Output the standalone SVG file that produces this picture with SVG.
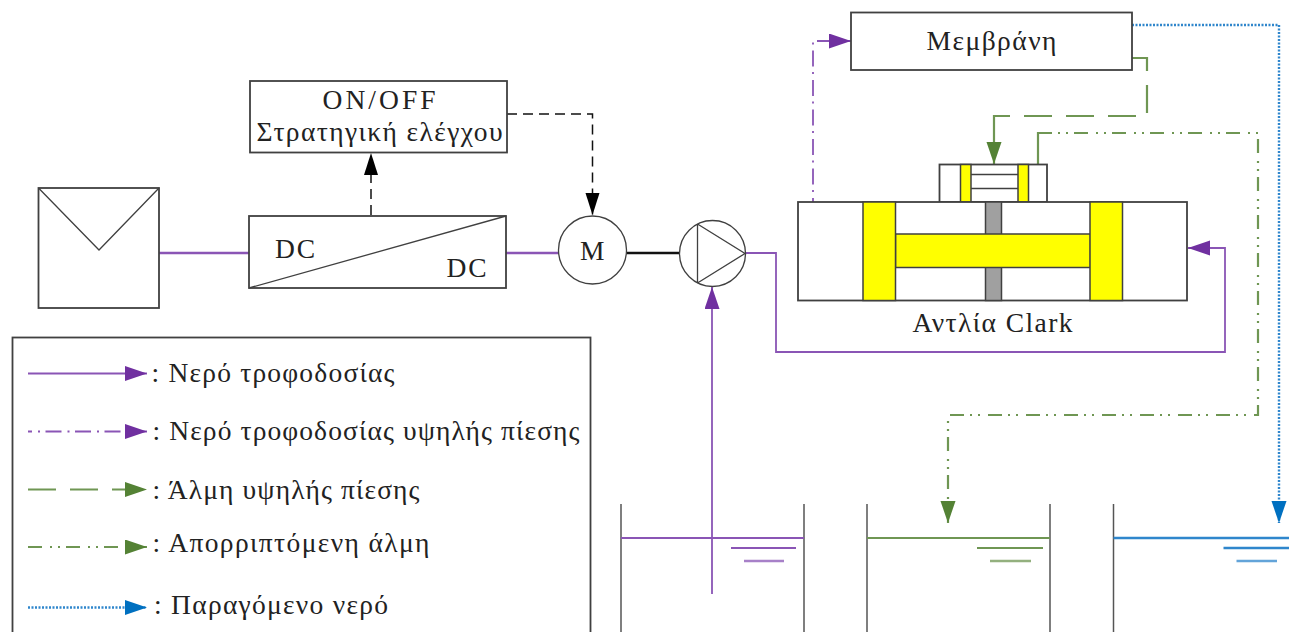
<svg xmlns="http://www.w3.org/2000/svg" width="1289" height="632" viewBox="0 0 1289 632">
<style>
text{font-family:"Liberation Serif","Noto Sans CJK SC",serif;font-size:27.500px;fill:#222}
.box{fill:#fff;stroke:#404040;stroke-width:1.8}
.thin{fill:none;stroke:#404040;stroke-width:1.3}
.y{fill:#ff0;stroke:#404040;stroke-width:1.5}
.g{fill:#a0a0a0;stroke:#404040;stroke-width:1.5}
.c{fill:none}
.pu{stroke:#8a55b5;stroke-width:1.8}
.gr{stroke:#6f9653;stroke-width:2.200}
.bl{stroke:#2f86cc;stroke-width:2.400}
.bk{stroke:#111;stroke-width:1.5}
.dd{stroke-dasharray:16 6 2 5.500;stroke-dashoffset:12}
.dl{stroke-dasharray:28 14}
.d3{stroke-dasharray:14 8 2 6 2 6}
.dt{stroke-dasharray:2 1.500}
.ds{stroke-dasharray:10 6}
.w{stroke-width:2.400}
.tank{fill:none;stroke:#555;stroke-width:1.5}
</style>
<defs>
<marker id="ap" markerUnits="userSpaceOnUse" markerWidth="23" markerHeight="16" refX="22" refY="7.5" orient="auto"><path d="M0 0L22 7.5L0 15z" fill="#7030a0"/></marker>
<marker id="ag" markerUnits="userSpaceOnUse" markerWidth="23" markerHeight="16" refX="22" refY="7.5" orient="auto"><path d="M0 0L22 7.5L0 15z" fill="#548235"/></marker>
<marker id="ab" markerUnits="userSpaceOnUse" markerWidth="23" markerHeight="16" refX="22" refY="7.5" orient="auto"><path d="M0 0L22 7.5L0 15z" fill="#0070c0"/></marker>
<marker id="ak" markerUnits="userSpaceOnUse" markerWidth="23" markerHeight="16" refX="22" refY="7" orient="auto"><path d="M0 0L22 7L0 14z" fill="#000"/></marker>
</defs>
<rect width="1289" height="632" fill="#fff"/>

<g id="connectors" class="c">
<path class="c pu w" d="M159 253H249"/>
<path class="c pu w" d="M506 253H558"/>
<path class="c bk" style="stroke-width:2.400" d="M627 253H680"/>
<path class="c pu" d="M745 253H776V352H1225V248H1188" marker-end="url(#ap)"/>
<path class="c pu" d="M712 594V287" marker-end="url(#ap)"/>
<path class="c pu dd" d="M813 202V41H851" marker-end="url(#ap)"/>
<path class="c gr dl" d="M1132 58H1147V116H1010"/>
<path class="c gr" d="M1010 116H994V164" marker-end="url(#ag)"/>
<path class="c gr" d="M1038 164V133H1052"/>
<path class="c gr d3" d="M1058 133H1258V415H948V523" stroke-dashoffset="22" marker-end="url(#ag)"/>
<path class="c bl dt" d="M1132 25H1279V523" marker-end="url(#ab)"/>
<path class="c bk ds" d="M371 215V153" marker-end="url(#ak)"/>
<path class="c bk ds" d="M507 114H592.500V215" marker-end="url(#ak)"/>
</g>

<g id="pv"><rect class="box" x="38.500" y="188" width="120.500" height="120"/><path class="thin" d="M38.500 188L99 250L159 188"/></g>
<g id="control"><rect class="box" x="250" y="81" width="257" height="71.500"/>
<text x="322.500" y="109" textLength="113">ON/OFF</text>
<text x="256.500" y="141" textLength="246">Στρατηγική ελέγχου</text></g>
<g id="dcdc"><rect class="box" x="249" y="216" width="257" height="72"/><path class="thin" d="M249 288L506 216"/>
<text x="275" y="258" textLength="40">DC</text>
<text x="446.500" y="277" textLength="40">DC</text></g>
<g id="motor"><circle class="thin" cx="592.500" cy="250" r="34"/><text x="580" y="259.500" textLength="26">M</text></g>
<g id="pump"><circle class="thin" cx="712.500" cy="253.500" r="33"/><path class="thin" d="M697.500 224V283M697.500 224L745 253.500L697.500 283"/></g>

<g id="membrane"><rect class="box" x="851" y="12.500" width="281" height="57.500"/>
<text x="926.500" y="50" textLength="130">Μεμβράνη</text></g>

<g id="clark">
<rect class="box" x="939.500" y="164.500" width="107.500" height="37.500"/>
<rect class="y" x="960.500" y="164.500" width="10.500" height="37.500"/>
<rect class="y" x="1018" y="164.500" width="10.500" height="37.500"/>
<path class="thin" d="M971 174.500H1018M971 188.500H1018"/>
<rect class="box" x="798" y="202" width="389" height="98.500"/>
<rect class="g" x="985.500" y="202" width="16" height="98.500"/>
<rect class="y" x="895.500" y="234" width="195" height="33.500"/>
<rect class="y" x="863" y="202" width="32.500" height="98.500"/>
<rect class="y" x="1090" y="202" width="32.500" height="98.500"/>
<text x="912.500" y="331.500" textLength="160">Αντλία Clark</text>
</g>

<g id="legend">
<rect class="box" x="12.500" y="337.500" width="578" height="310"/>
<path class="c pu" d="M28 373.500H147" marker-end="url(#ap)"/>
<path class="c pu dd" d="M28 431.500H147" stroke-dashoffset="0" marker-end="url(#ap)"/>
<path class="c gr dl" d="M28 489.500H147" marker-end="url(#ag)"/>
<path class="c gr d3" d="M28 547H147" marker-end="url(#ag)"/>
<path class="c bl dt" d="M28 607.500H147" marker-end="url(#ab)"/>
<text x="151.500" y="382" textLength="243">: Νερό τροφοδοσίας</text>
<text x="152.500" y="440" textLength="427">: Νερό τροφοδοσίας υψηλής πίεσης</text>
<text x="152.500" y="499" textLength="267">: Άλμη υψηλής πίεσης</text>
<text x="152.500" y="552" textLength="277">: Απορριπτόμενη άλμη</text>
<text x="154" y="614" textLength="234">: Παραγόμενο νερό</text>
</g>

<g id="tank-feed">
<path class="tank" d="M621 504V632M804 504V632"/>
<path class="c pu" d="M621 538H804M731 548H796"/><path class="c pu" style="stroke-width:2.500;opacity:.75" d="M744 561H784"/>
</g>
<g id="tank-brine">
<path class="tank" d="M867 504V632M1050 504V632"/>
<path class="c gr" d="M867 538H1050M977 548H1043"/><path class="c gr" style="stroke-width:2.500;opacity:.75" d="M990 561H1031"/>
</g>
<g id="tank-product">
<path class="tank" d="M1113.500 504V632"/>
<path class="c bl" d="M1113.500 538H1289M1223.500 548H1289"/><path class="c bl" style="stroke-width:2.500;opacity:.75" d="M1236.500 561H1277"/>
</g>
</svg>
